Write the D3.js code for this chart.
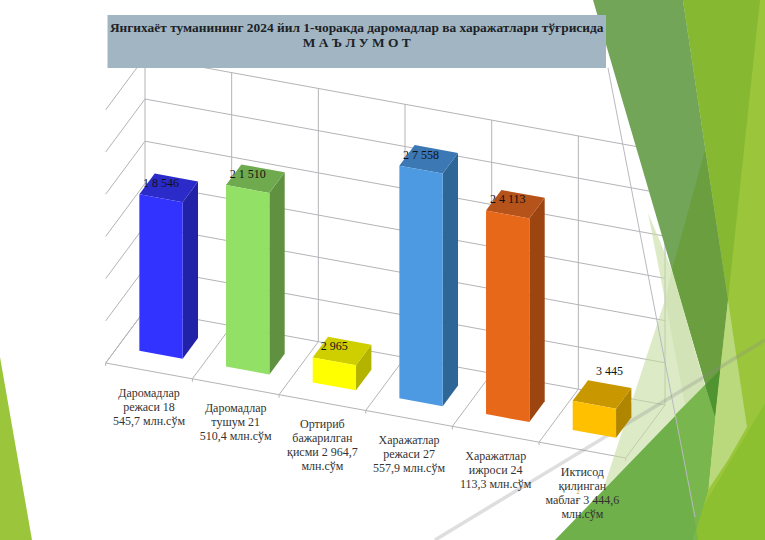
<!DOCTYPE html>
<html>
<head>
<meta charset="utf-8">
<script src="https://cdn.jsdelivr.net/npm/d3@7"></script>
<style>
html, body { margin: 0; padding: 0; background: #fff; }
svg { display: block; }
text { font-family: "Liberation Serif", serif; }
</style>
</head>
<body>
<div id="chart"></div>
<script>
const width = 765;
const height = 540;

const titleLines = ['Янгихаёт туманининг 2024 йил 1-чоракда даромадлар ва харажатлари тўғрисида', 'М А Ъ Л У М О Т'];
const categories = [
    ['Даромадлар', 'режаси 18', '545,7 млн.сўм'],
    ['Даромадлар', 'тушум 21', '510,4 млн.сўм'],
    ['Ортириб', 'бажарилган', 'қисми 2 964,7', 'млн.сўм'],
    ['Харажатлар', 'режаси 27', '557,9 млн.сўм'],
    ['Харажатлар', 'ижроси 24', '113,3 млн.сўм'],
    ['Иктисод', 'қилинган', 'маблағ 3 444,6', 'млн.сўм']
];
const values = [18546, 21510, 2965, 27558, 24113, 3445];
const valueLabels = ['1 8 546', '2 1 510', '2 965', '2 7 558', '2 4 113', '3 445'];
const valueTicks = [0, 5000, 10000, 15000, 20000, 25000, 30000];
const frontColors = ['#3333ff', '#92e066', '#ffff00', '#4d99e2', '#e8681a', '#ffc000'];
const topColors = ['#2b2bc9', '#6fab4e', '#cfcf00', '#3b78b4', '#b5531a', '#c99800'];
const sideColors = ['#2222a8', '#5f9140', '#b3b300', '#2f6698', '#9c4510', '#b08500'];

const svg = d3.select('#chart')
    .append('svg')
    .attr('width', width)
    .attr('height', height);

// oblique projection of the 3d chart box, fitted to the floor corners
const origin = [105.7, 363];
const stepX = [86.67, 15.83];
const depth = [39.3, -53];

const band = d3.scaleBand()
    .domain(d3.range(categories.length))
    .range([0, categories.length])
    .paddingInner(0.5)
    .paddingOuter(0.25);
const depthScale = d3.scaleLinear().domain([0, 1]).range([0.305, 0.695]);
const heightScale = d3.scaleLinear().domain([0, 30000]).range([0, 253.2]);

function project(u, v, h) {
    return [
        origin[0] + stepX[0] * u + depth[0] * v,
        origin[1] + stepX[1] * u + depth[1] * v - h
    ];
}

const line = d3.line();
const pts = list => line(list) + 'Z';

// slide background, behind the chart box
const bgBack = svg.append('g');
bgBack.append('path').attr('d', pts([[0, 357], [32, 540], [0, 540]])).attr('fill', '#9bc63c');
bgBack.append('path').attr('d', pts([[683, 0], [765, 0], [765, 540], [683, 540], [715, 417], [728, 300]])).attr('fill', '#9bc63c');

// chart box
const grid = svg.append('g')
    .attr('fill', 'none')
    .attr('stroke', '#b4b4b8')
    .attr('stroke-width', 1);
const n = categories.length;
const maxH = heightScale(30000);

valueTicks.forEach(t => {
    const h = heightScale(t);
    grid.append('path').attr('d', line([project(0, 0, h), project(0, 1, h), project(n, 1, h)]));
});
d3.range(n + 1).forEach(i => {
    grid.append('path').attr('d', line([project(i, 1, maxH), project(i, 1, 0), project(i, 0, 0)]));
    const p = project(i, 0, 0);
    grid.append('path').attr('d', line([p, [p[0], p[1] + 3]]));
});
grid.append('path').attr('d', line([project(0, 0, 0), project(n, 0, 0)]));

// green facets sit over the far end of the grid
const bgFront = svg.append('g');
bgFront.append('path').attr('d', pts([[593, 0], [683, 0], [728, 300], [715, 417]])).attr('fill', '#72a558');
bgFront.append('path').attr('d', pts([[683, 0], [760, 0], [728, 300]])).attr('fill', '#86b832');
bgFront.append('path').attr('d', pts([[705, 150], [728, 300], [715, 417], [672, 270]])).attr('fill', '#6b9e3f');
bgFront.append('path').attr('d', pts([[765, 403], [683, 540], [765, 540]])).attr('fill', '#8cc030');
bgFront.append('path').attr('d', pts([[728, 300], [747, 427], [728, 460], [708, 490], [715, 417]])).attr('fill', '#b9d97c');
bgFront.append('path').attr('d', pts([[648, 213], [672, 270], [705, 385], [603, 490], [665, 300]])).attr('fill', '#c4dca0').attr('opacity', 0.6);
bgFront.append('path').attr('d', pts([[665, 300], [672, 270], [705, 385], [685, 405]])).attr('fill', '#c4dca0').attr('opacity', 0.4);
bgFront.append('path').attr('d', pts([[705, 385], [715, 417], [708, 490], [693, 540], [555, 540]])).attr('fill', '#6fb04a');
bgFront.append('path').attr('d', pts([[675, 415], [705, 385], [715, 417], [708, 490], [693, 540], [698, 540]])).attr('fill', '#79b64e');
bgFront.append('path').attr('d', pts([[705, 385], [720, 370], [715, 417]])).attr('fill', '#4f9430');
bgFront.append('path').attr('d', line([[608, 68], [695, 517]])).attr('stroke', '#b8b8c0').attr('stroke-width', 1).attr('fill', 'none');
bgFront.append('path').attr('d', line([[435, 540], [765, 340]])).attr('stroke', '#8a8a8a').attr('stroke-width', 3.5).attr('opacity', 0.28).attr('fill', 'none');

// bars: side and top faces first, then the front
const bars = svg.append('g')
    .selectAll('g')
    .data(values)
    .enter()
    .append('g');

bars.each(function(d, i) {
    const g = d3.select(this);
    const u0 = band(i);
    const u1 = u0 + band.bandwidth();
    const v0 = depthScale(0);
    const v1 = depthScale(1);
    const h = heightScale(d);
    g.append('path')
        .attr('d', pts([project(u1, v0, 0), project(u1, v1, 0), project(u1, v1, h), project(u1, v0, h)]))
        .attr('fill', sideColors[i]);
    g.append('path')
        .attr('d', pts([project(u0, v0, h), project(u1, v0, h), project(u1, v1, h), project(u0, v1, h)]))
        .attr('fill', topColors[i]);
    g.append('path')
        .attr('d', pts([project(u0, v0, 0), project(u1, v0, 0), project(u1, v0, h), project(u0, v0, h)]))
        .attr('fill', frontColors[i]);
});

// value labels sit on the top face, the short last bar has its label pushed clear
svg.append('g')
    .selectAll('text')
    .data(valueLabels)
    .enter()
    .append('text')
    .attr('x', (d, i) => project(band(i) + band.bandwidth() / 2, 0.5, heightScale(values[i]))[0] + (i === 5 ? 7.5 : -7.7))
    .attr('y', (d, i) => project(band(i) + band.bandwidth() / 2, 0.5, heightScale(values[i]))[1] + (i === 5 ? -24 : -5))
    .attr('dy', '0.35em')
    .attr('text-anchor', 'middle')
    .attr('font-size', 12)
    .attr('fill', '#111')
    .text(d => d);

// category labels under the front edge
const catLabels = svg.append('g')
    .selectAll('text')
    .data(categories)
    .enter()
    .append('text')
    .attr('text-anchor', 'middle')
    .attr('font-size', 12)
    .attr('fill', '#333');

catLabels.each(function(d, i) {
    const p = project(band(i) + band.bandwidth() / 2, 0, 0);
    d3.select(this).selectAll('tspan')
        .data(d)
        .enter()
        .append('tspan')
        .attr('x', p[0])
        .attr('y', (t, j) => p[1] + 21.5 + j * 14)
        .attr('dy', '0.35em')
        .text(t => t);
});

svg.append('text')
    .attr('x', 578).attr('y', 494)
    .attr('font-size', 6)
    .attr('text-anchor', 'middle')
    .attr('fill', '#b09020')
    .text('2');

// title banner
svg.append('rect')
    .attr('x', 107.5).attr('y', 15)
    .attr('width', 498.5).attr('height', 53)
    .attr('fill', '#a2b5c2');
svg.append('g')
    .selectAll('text')
    .data(titleLines)
    .enter()
    .append('text')
    .attr('x', 356.7)
    .attr('y', (d, i) => 27 + i * 15.5)
    .attr('dy', '0.35em')
    .attr('text-anchor', 'middle')
    .attr('font-size', 13.4)
    .attr('font-weight', 'bold')
    .attr('fill', '#1c2226')
    .text(d => d);
</script>
</body>
</html>
